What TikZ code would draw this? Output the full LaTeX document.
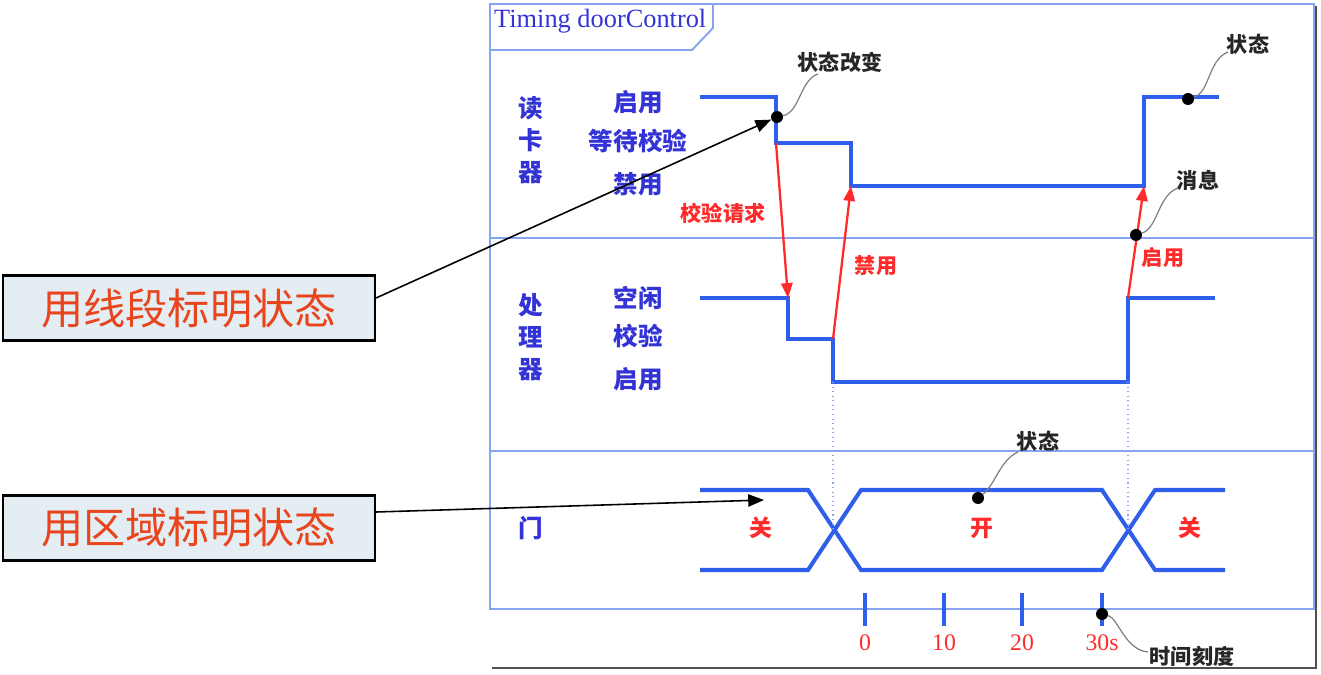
\documentclass[tikz,border=0pt]{standalone}
\usepackage{fontspec}
\setmainfont{Liberation Serif}
\newfontfamily\cjk{Noto Sans CJK SC}
\usetikzlibrary{positioning,arrows.meta}
\definecolor{framec}{HTML}{86A4F2}
\definecolor{wavec}{HTML}{2F5FEA}
\definecolor{lanec}{HTML}{3434D6}
\definecolor{msgred}{HTML}{FF2A2A}
\definecolor{calloutbg}{HTML}{E4EEF2}
\definecolor{callouttxt}{HTML}{E8441E}
\definecolor{shadowc}{HTML}{505050}
\tikzset{
    frameline/.style={draw=framec, line width=1.1pt},
    wave/.style={draw=wavec, line width=2.3pt, line join=miter},
    guide/.style={draw=framec, dotted, line width=0.6pt},
    lanelbl/.style={font=\cjk\bfseries\fontsize{14}{18.3}\selectfont, text=lanec, align=center},
    statelbl/.style={font=\cjk\bfseries\fontsize{14}{16}\selectfont, text=lanec},
    msg/.style={-{Triangle[length=8.5pt,width=6.5pt]}, draw=msgred, line width=1.3pt},
    msglbl/.style={font=\cjk\bfseries\fontsize{12}{14}\selectfont, text=msgred},
    note/.style={font=\cjk\bfseries\fontsize{12}{14}\selectfont, text=black!85},
    pin/.style={circle, fill=black, inner sep=0pt, minimum size=0.24cm},
    leader/.style={draw=gray, line width=0.7pt},
    callout/.style={rectangle, draw=black, line width=1.2pt, fill=calloutbg, text=callouttxt, font=\cjk\fontsize{24}{28}\selectfont, minimum width=7.44cm, minimum height=1.3cm, inner sep=0pt},
    pointer/.style={-{Triangle[length=9pt,width=7pt]}, black, line width=0.9pt},
    ticklbl/.style={font=\fontsize{13.5}{15}\selectfont, text=msgred}
}
\begin{document}
\begin{tikzpicture}[x=0.02cm, y=-0.02cm]
\useasboundingbox (0,0) rectangle (1321,675);

% panel and lanes
\draw[shadowc, line width=1.6pt] (492,668) -- (1316,668) -- (1316,6);
\draw[frameline] (490,4) rectangle (1314,609);
\draw[frameline] (490,238) -- (1314,238);
\draw[frameline] (490,451) -- (1314,451);
\draw[frameline] (490,50) -- (692,50) -- (713,28) -- (713,4);
\node[anchor=west, font=\fontsize{15}{17}\selectfont, text=lanec] (title) at (488,21) {Timing doorControl};

\node[lanelbl] (reader) at (531,140) {读\\卡\\器};
\node[lanelbl] (cpu) at (531,337) {处\\理\\器};
\node[lanelbl] (door) at (531,528) {门};

\node[statelbl] (rOn) at (638,102) {启用};
\node[statelbl] (rWait) at (638,141) {等待校验};
\node[statelbl] (rOff) at (638,184) {禁用};
\node[statelbl] (pIdle) at (638,298) {空闲};
\node[statelbl] (pChk) at (638,336) {校验};
\node[statelbl] (pOn) at (638,379) {启用};

% waveforms
\draw[wave] (700,97) -- (776,97) -- (776,143) -- (851,143) -- (851,186) -- (1144,186) -- (1144,97) -- (1219,97);
\draw[wave] (700,298) -- (788,298) -- (788,339) -- (833,339) -- (833,382) -- (1128,382) -- (1128,298) -- (1215,298);
\draw[wave] (700,490) -- (808,490) -- (861,570) -- (1102,570) -- (1155,490) -- (1225,490);
\draw[wave] (700,570) -- (808,570) -- (861,490) -- (1102,490) -- (1155,570) -- (1225,570);
\draw[guide] (833,382) -- (833,530);
\draw[guide] (1128,382) -- (1128,530);

% messages
\coordinate (req0) at (776,143);
\coordinate (req1) at (788,298);
\coordinate (dis0) at (833,339);
\coordinate (dis1) at (851,186);
\coordinate (ena0) at (1128,298);
\coordinate (ena1) at (1144,186);
\draw[msg] (req0) -- (req1);
\draw[msg] (dis0) -- (dis1);
\draw[msg] (ena0) -- (ena1);
\node[msglbl] (reqLbl) at (723,213) {校验请求};
\node[msglbl] (disLbl) at (876,266) {禁用};
\node[msglbl] (enaLbl) at (1163,258) {启用};

\node[msglbl, font=\cjk\bfseries\fontsize{13}{15}\selectfont] (closeA) at (761,528) {关};
\node[msglbl, font=\cjk\bfseries\fontsize{13}{15}\selectfont] (openB) at (982,528) {开};
\node[msglbl, font=\cjk\bfseries\fontsize{13}{15}\selectfont] (closeC) at (1190,528) {关};

% time scale
\foreach \x/\t [count=\i] in {865/0, 944/10, 1022/20, 1102/30s} {
    \draw[wavec, line width=1.8pt] (\x,593) -- (\x,626);
    \node[ticklbl] (t\i) at (\x,643) {\t};
}

% annotations
\node[pin] (chg) at (777,117) {};
\node[note] (chgLbl) at (840,62) {状态改变};
\draw[leader] (chg) .. controls (800,112) and (800,80) .. (818,74);

\node[pin] (stR) at (1188,99) {};
\node[note] (stRLbl) at (1248,44) {状态};
\draw[leader] (stR) .. controls (1210,92) and (1208,60) .. (1228,52);

\node[pin] (msgDot) at (1136,235) {};
\node[note] (msgLbl) at (1198,180) {消息};
\draw[leader] (msgDot) .. controls (1158,228) and (1158,195) .. (1178,188);

\node[pin] (stD) at (978,498) {};
\node[note] (stDLbl) at (1038,441) {状态};
\draw[leader] (stD) .. controls (995,485) and (1000,460) .. (1018,452);

\node[pin] (scale) at (1102,614) {};
\node[note] (scaleLbl) at (1192,656) {时间刻度};
\draw[leader] (scale) .. controls (1118,618) and (1125,650) .. (1148,652);

% callouts
\node[callout] (lineseg) at (189,308) {用线段标明状态};
\node[callout] (region) at (189,528) {用区域标明状态};
\coordinate (doorgap) at (764,500);
\draw[pointer] ([yshift=0.2cm]lineseg.east) -- (chg);
\draw[pointer] ([yshift=0.32cm]region.east) -- (doorgap);

\end{tikzpicture}
\end{document}
